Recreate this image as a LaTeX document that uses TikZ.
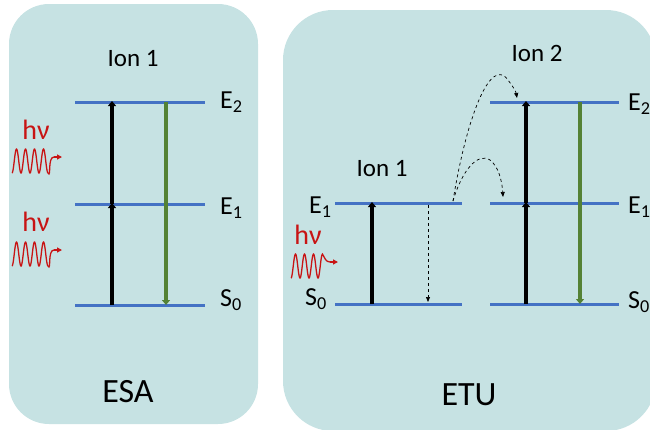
\documentclass[tikz,border=0pt]{standalone}
\usepackage{fontspec}
\setmainfont{Carlito}
\usetikzlibrary{arrows.meta}
\definecolor{panel}{RGB}{198,226,227}
\definecolor{lvl}{RGB}{68,114,196}
\definecolor{grn}{RGB}{84,130,53}
\definecolor{rd}{RGB}{200,20,20}
\begin{document}
\begin{tikzpicture}[x=1pt,y=-1pt,
  level/.style={draw=lvl,line width=3pt},
  up/.style={draw=black,line width=4pt,-{Triangle[length=5pt,width=8pt]}, shorten >=-1pt},
  down/.style={draw=grn,line width=4.5pt,-{Triangle[length=5pt,width=8pt]}},
  dsh/.style={draw=black,dashed,line width=0.7pt,-{Triangle[length=5pt,width=4pt]}},
  lab/.style={font=\fontsize{26}{28}\selectfont,anchor=west,inner sep=0pt},
  ion/.style={font=\fontsize{25}{27}\selectfont,inner sep=0pt},
  big/.style={font=\fontsize{34}{36}\selectfont,inner sep=0pt},
  hv/.style={font=\fontsize{28}{30}\selectfont,text=rd,inner sep=0pt},
  wave/.style={draw=rd,line width=1.3pt}
]
\useasboundingbox (0,0) rectangle (650,429);
\clip (0,0) rectangle (650,429);
% panels
\fill[panel,rounded corners=40pt] (9,4) rectangle (258,424);
\fill[panel,rounded corners=50pt] (283,10) rectangle (656,431);

% ---------- ESA ----------
\coordinate (aE2l) at (75,102); \coordinate (aE2r) at (205,102);
\coordinate (aE1l) at (75,204); \coordinate (aE1r) at (205,204);
\coordinate (aS0l) at (75,305); \coordinate (aS0r) at (205,305);
\draw[level] (aE2l) -- (aE2r);
\draw[level] (aE1l) -- (aE1r);
\draw[level] (aS0l) -- (aS0r);
\coordinate (a1) at (112,305); \coordinate (a2) at (112,204); \coordinate (a3) at (112,102);
\draw[up] (a1) -- (a2);
\draw[up] (a2) -- (a3);
\coordinate (g1) at (166,102); \coordinate (g2) at (166,305);
\draw[down] (g1) -- (g2);
\node[lab] (tE2a) at (220,102) {E\textsubscript{2}};
\node[lab] (tE1a) at (220,208) {E\textsubscript{1}};
\node[lab] (tS0a) at (220,300) {S\textsubscript{0}};
\node[ion] (ion1a) at (133,59) {Ion 1};
\node[big] (esa) at (128,392) {ESA};
\node[hv] (hv1) at (36,130) {hν};
\node[hv] (hv2) at (36,222) {hν};
\draw[wave] plot[domain=0:4,samples=120,smooth] ({12+9*\x},{161+12*sin(\x*360+90)}) to[out=-60,in=180] (54,157);
\coordinate (w1) at (54,157); \coordinate (w1e) at (62,157);
\draw[wave,-{Triangle[length=5pt,width=5pt]}] (w1) -- (w1e);
\draw[wave] plot[domain=0:4,samples=120,smooth] ({12+9*\x},{254+12*sin(\x*360+90)}) to[out=-60,in=180] (54,250);
\coordinate (w2) at (54,250); \coordinate (w2e) at (62,250);
\draw[wave,-{Triangle[length=5pt,width=5pt]}] (w2) -- (w2e);

% ---------- ETU ----------
\coordinate (bE1l) at (335,203); \coordinate (bE1r) at (462,203);
\coordinate (bS0l) at (335,304); \coordinate (bS0r) at (462,304);
\draw[level] (bE1l) -- (bE1r);
\draw[level] (bS0l) -- (bS0r);
\coordinate (b1) at (372,304); \coordinate (b2) at (372,203);
\draw[up,line width=4.5pt] (b1) -- (b2);
\coordinate (d1) at (428,205); \coordinate (d2) at (428,302);
\draw[dsh] (d1) -- (d2);
\node[lab] (tE1b) at (309,207) {E\textsubscript{1}};
\node[lab] (tS0b) at (305,299) {S\textsubscript{0}};
\node[ion] (ion1b) at (382,169) {Ion 1};
\node[hv] (hv3) at (308,235) {hν};
\draw[wave] plot[domain=0:3.5,samples=120,smooth] ({291+9*\x},{266+12*sin(\x*360+90)}) to[out=-60,in=180] (330,262);
\coordinate (w3) at (330,262); \coordinate (w3e) at (338,262);
\draw[wave,-{Triangle[length=5pt,width=5pt]}] (w3) -- (w3e);

\coordinate (cE2l) at (490,102); \coordinate (cE2r) at (619,102);
\coordinate (cE1l) at (490,203); \coordinate (cE1r) at (619,203);
\coordinate (cS0l) at (490,304); \coordinate (cS0r) at (619,304);
\draw[level] (cE2l) -- (cE2r);
\draw[level] (cE1l) -- (cE1r);
\draw[level] (cS0l) -- (cS0r);
\coordinate (c1) at (526,304); \coordinate (c2) at (526,203); \coordinate (c3) at (526,102);
\draw[up] (c1) -- (c2);
\draw[up] (c2) -- (c3);
\coordinate (h1) at (580,102); \coordinate (h2) at (580,304);
\draw[down] (h1) -- (h2);
\node[lab] (tE2c) at (628,104) {E\textsubscript{2}};
\node[lab] (tE1c) at (628,207) {E\textsubscript{1}};
\node[lab] (tS0c) at (628,302) {S\textsubscript{0}};
\node[ion] (ion2) at (537,53) {Ion 2};
\node[big] (etu) at (469,395) {ETU};

% dashed transfer curves
\coordinate (t0) at (453,201);
\coordinate (t1) at (517,98);
\coordinate (t2) at (503,197);
\draw[dsh] (t0) .. controls (466,120) and (490,55) .. (508,80) .. controls (514,88) and (516,92) .. (t1);
\draw[dsh] (t0) .. controls (462,170) and (478,152) .. (490,160) .. controls (498,166) and (502,180) .. (t2);
\end{tikzpicture}
\end{document}
